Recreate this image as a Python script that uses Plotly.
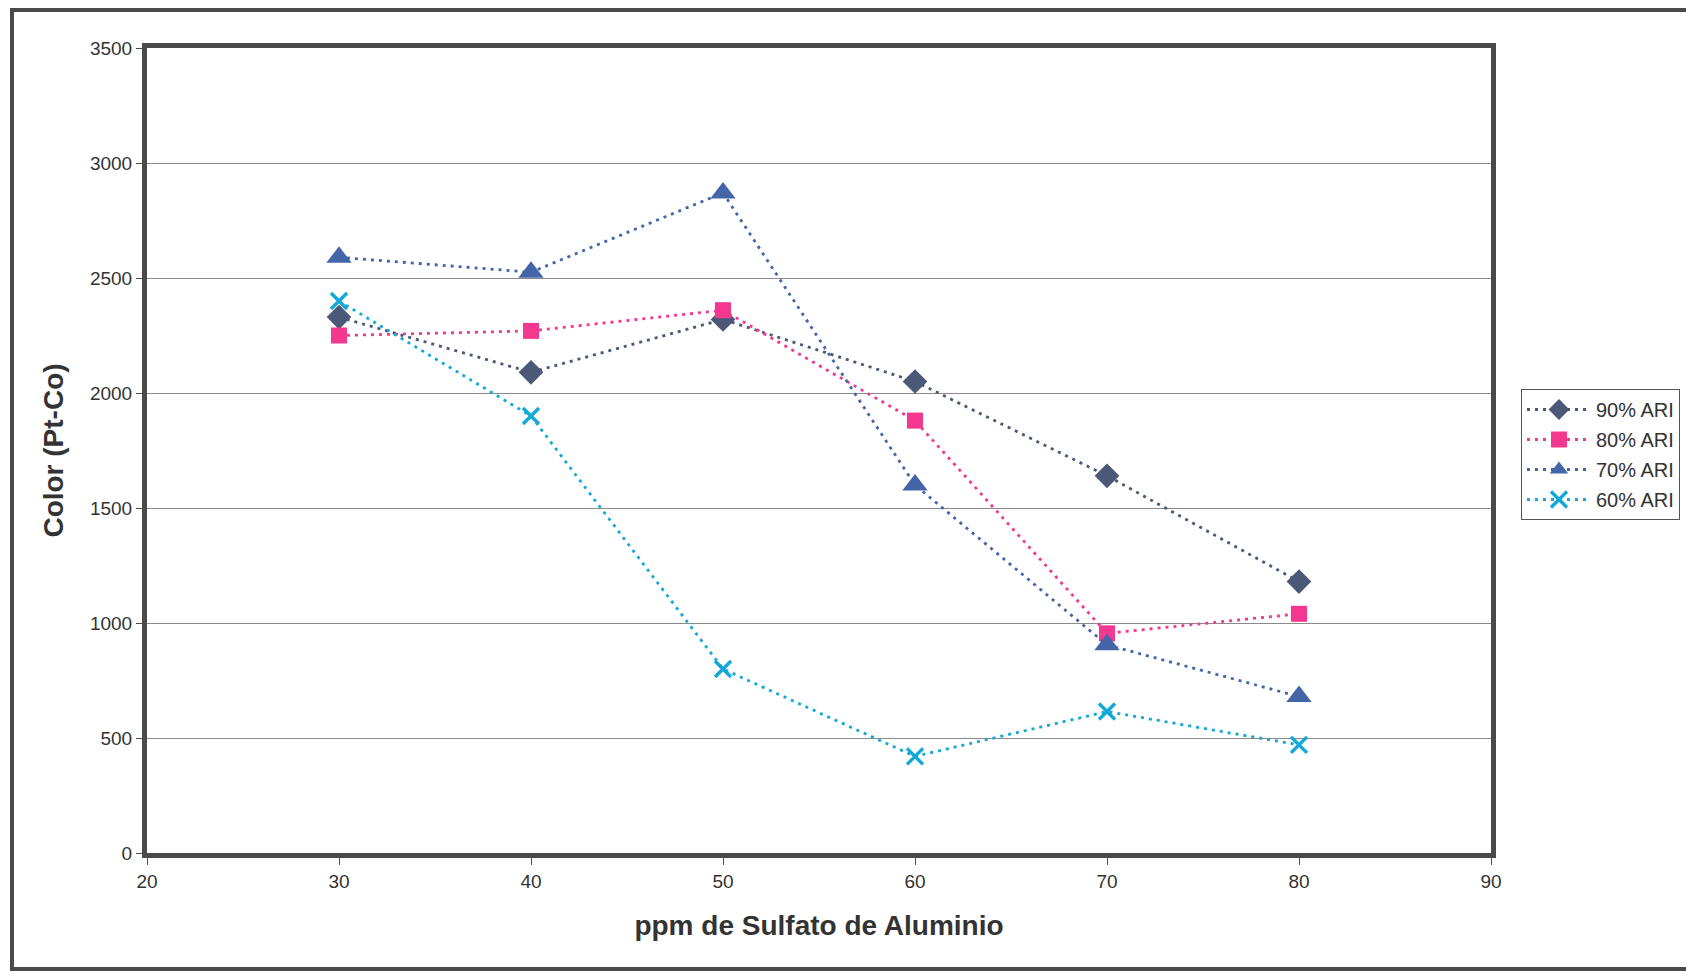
import plotly.graph_objects as go

ppm = [30, 40, 50, 60, 70, 80]
ari90 = [2330, 2090, 2320, 2050, 1640, 1180]
ari80 = [2250, 2270, 2360, 1880, 955, 1040]
ari70 = [2590, 2525, 2870, 1600, 905, 680]
ari60 = [2400, 1900, 800, 420, 615, 470]

series = [
    ("90% ARI", ari90, "#4b5878", "diamond", 19, 0),
    ("80% ARI", ari80, "#f4378f", "square", 16, 0),
    ("70% ARI", ari70, "#4466a8", "triangle-up", 22, 0),
    ("60% ARI", ari60, "#12a8d8", "x-thin", 16, 3.4),
]

fig = go.Figure()
for i, (name, vals, col, sym, sz, lw) in enumerate(series):
    mk = dict(symbol=sym, size=sz, color=col)
    if lw:
        mk["line"] = dict(color=col, width=lw)
    fig.add_trace(go.Scatter(
        x=ppm, y=vals, name=name, mode="lines+markers",
        line=dict(color=col, width=2.8, dash="3px,5px"),
        marker=mk, legendgroup=f"g{i}",
    ))

# page has an 8px body margin; figure coordinates are page minus 8
OFF = 8
W, H = 1686, 964
L, R, T, B = 147 - OFF, 1491 - OFF, 48 - OFF, 853 - OFF
pw, ph = R - L, B - T

def px(xp):
    return (xp - OFF - L) / pw

def py(yp):
    return (B - (yp - OFF)) / ph

fig.add_shape(type="rect", xref="paper", yref="paper",
              x0=px(12), x1=px(1690), y0=py(969), y1=py(10),
              line=dict(color="#4a4a4a", width=4), layer="below")

fig.update_layout(
    width=W, height=H,
    margin=dict(l=L, r=W - R, t=T, b=H - B),
    paper_bgcolor="white", plot_bgcolor="white",
    font=dict(family="Arial, Liberation Sans, sans-serif", color="#333333", size=18),
    showlegend=True,
    legend=dict(x=px(1521), y=py(389), xanchor="left", yanchor="top",
                bordercolor="#555555", borderwidth=1, bgcolor="white",
                font=dict(size=20, color="#333333"), tracegroupgap=1,
                itemwidth=64),
)
fig.update_xaxes(range=[20, 90], tickvals=[20, 30, 40, 50, 60, 70, 80, 90],
                 showgrid=False, zeroline=False,
                 showline=True, linecolor="#4a4a4a", linewidth=5, mirror=True,
                 ticks="outside", ticklen=7, tickcolor="#4a4a4a", tickwidth=1,
                 tickfont=dict(size=19, color="#333333"),
                 title=dict(text="<b>ppm de Sulfato de Aluminio</b>",
                            font=dict(size=28, color="#333333"), standoff=26))
fig.update_yaxes(range=[0, 3500], tickvals=[0, 500, 1000, 1500, 2000, 2500, 3000, 3500],
                 showgrid=True, gridcolor="#8a8a8a", gridwidth=1.2, zeroline=False,
                 showline=True, linecolor="#4a4a4a", linewidth=5, mirror=True,
                 ticks="outside", ticklen=6, tickcolor="#4a4a4a", tickwidth=1,
                 tickfont=dict(size=19, color="#333333"),
                 title=dict(text="<b>Color (Pt-Co)</b>",
                            font=dict(size=28, color="#333333"), standoff=20))

fig.write_html("out.html")
